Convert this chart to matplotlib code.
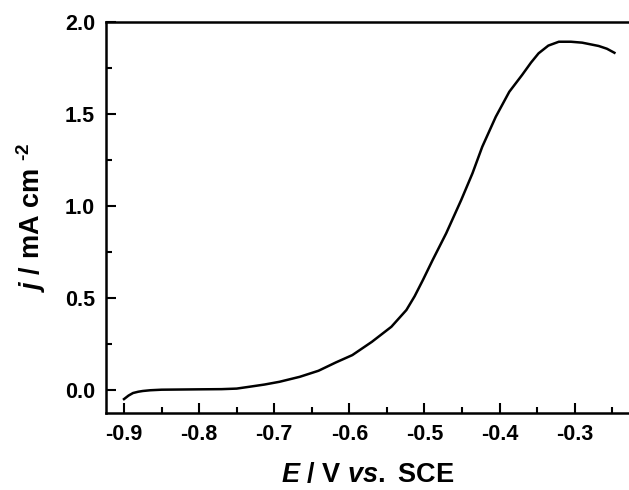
import matplotlib
matplotlib.use('Agg')
import matplotlib.pyplot as plt
from matplotlib.ticker import MultipleLocator

# Potential (V vs. SCE) and current density (mA cm^-2)
potencial = [-0.900, -0.894, -0.888, -0.881, -0.875, -0.865, -0.85, -0.80, -0.77,
             -0.75, -0.733, -0.713, -0.693, -0.666, -0.641, -0.618, -0.596,
             -0.570, -0.544, -0.524, -0.513, -0.502, -0.489, -0.471, -0.451,
             -0.436, -0.423, -0.405, -0.387, -0.370, -0.358, -0.348,
             -0.335, -0.321, -0.305, -0.290, -0.268, -0.257, -0.247]
corrente = [-0.049, -0.030, -0.016, -0.009, -0.005, -0.001, 0.002, 0.004, 0.005,
            0.008, 0.018, 0.030, 0.045, 0.072, 0.105, 0.150, 0.190,
            0.262, 0.344, 0.435, 0.510, 0.598, 0.707, 0.852, 1.033,
            1.178, 1.322, 1.485, 1.621, 1.712, 1.780, 1.830,
            1.872, 1.893, 1.893, 1.888, 1.870, 1.855, 1.833]

plt.rcParams['font.family'] = 'Liberation Sans'
plt.rcParams['font.weight'] = 'bold'
plt.rcParams['axes.labelweight'] = 'bold'
plt.rcParams['axes.unicode_minus'] = False
plt.rcParams['mathtext.fontset'] = 'custom'
plt.rcParams['mathtext.rm'] = 'Liberation Sans:bold'
plt.rcParams['mathtext.it'] = 'Liberation Sans:italic:bold'
plt.rcParams['mathtext.bf'] = 'Liberation Sans:bold'

fig = plt.figure(figsize=(6.29, 4.90), dpi=100)
ax = fig.add_axes([0.1685, 0.157, 0.831, 0.798])

ax.plot(potencial, corrente, color='black', linewidth=1.8)

ax.set_xlim(-0.924, -0.228)
ax.set_ylim(-0.125, 2.0)
ax.xaxis.set_major_locator(MultipleLocator(0.1))
ax.xaxis.set_minor_locator(MultipleLocator(0.05))
ax.yaxis.set_major_locator(MultipleLocator(0.5))
ax.yaxis.set_minor_locator(MultipleLocator(0.25))
ax.xaxis.set_major_formatter(plt.FuncFormatter(lambda v, p: f'{v:.1f}'))
ax.yaxis.set_major_formatter(plt.FuncFormatter(lambda v, p: f'{v:.1f}'))

ax.tick_params(which='both', direction='in', width=1.5, labelsize=15.5, pad=8)
ax.tick_params(which='major', length=7)
ax.tick_params(which='minor', length=4)
ax.tick_params(top=False, right=False)

for lado in ['left', 'bottom', 'top']:
    ax.spines[lado].set_linewidth(1.8)
ax.spines['right'].set_visible(False)

ax.set_xlabel(r'$\it{E}$ / V $\it{vs.}$ SCE', fontsize=19.5, labelpad=12)
ax.set_ylabel(r'$\it{j}$ / mA cm $^{\text{-2}}$', fontsize=19.5, labelpad=12)

plt.savefig('out.png', dpi=100)
